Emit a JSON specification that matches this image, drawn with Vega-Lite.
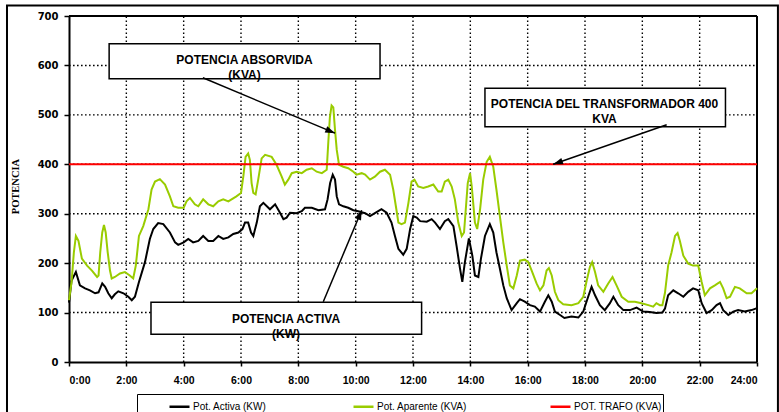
{
  "$schema": "https://vega.github.io/schema/vega-lite/v6.json",
  "width": 688,
  "height": 346,
  "autosize": {"type": "none"},
  "padding": {"left": 69, "top": 16, "right": 22, "bottom": 50},
  "background": "white",
  "datasets": {
    "activa": [
      {"hora": 0.00, "kw": 120}, {"hora": 0.09, "kw": 165}, {"hora": 0.24, "kw": 182}, {"hora": 0.38, "kw": 155},
      {"hora": 0.56, "kw": 149}, {"hora": 0.73, "kw": 145}, {"hora": 0.91, "kw": 139}, {"hora": 1.03, "kw": 141},
      {"hora": 1.16, "kw": 159}, {"hora": 1.26, "kw": 152}, {"hora": 1.37, "kw": 139}, {"hora": 1.49, "kw": 129},
      {"hora": 1.60, "kw": 137}, {"hora": 1.72, "kw": 143}, {"hora": 1.90, "kw": 139}, {"hora": 2.07, "kw": 132},
      {"hora": 2.19, "kw": 125}, {"hora": 2.30, "kw": 132}, {"hora": 2.44, "kw": 162}, {"hora": 2.65, "kw": 202},
      {"hora": 2.82, "kw": 249}, {"hora": 2.94, "kw": 269}, {"hora": 3.11, "kw": 281}, {"hora": 3.29, "kw": 279},
      {"hora": 3.52, "kw": 262}, {"hora": 3.70, "kw": 242}, {"hora": 3.81, "kw": 237}, {"hora": 4.00, "kw": 242},
      {"hora": 4.16, "kw": 249}, {"hora": 4.33, "kw": 242}, {"hora": 4.51, "kw": 245}, {"hora": 4.68, "kw": 255},
      {"hora": 4.86, "kw": 245}, {"hora": 5.03, "kw": 245}, {"hora": 5.21, "kw": 255}, {"hora": 5.38, "kw": 249},
      {"hora": 5.56, "kw": 252}, {"hora": 5.73, "kw": 259}, {"hora": 5.91, "kw": 262}, {"hora": 6.05, "kw": 269},
      {"hora": 6.14, "kw": 282}, {"hora": 6.25, "kw": 282}, {"hora": 6.35, "kw": 262}, {"hora": 6.43, "kw": 255},
      {"hora": 6.55, "kw": 282}, {"hora": 6.66, "kw": 315}, {"hora": 6.78, "kw": 322}, {"hora": 7.01, "kw": 309},
      {"hora": 7.19, "kw": 319}, {"hora": 7.36, "kw": 302}, {"hora": 7.48, "kw": 289}, {"hora": 7.59, "kw": 292},
      {"hora": 7.71, "kw": 302}, {"hora": 7.94, "kw": 301}, {"hora": 8.12, "kw": 305}, {"hora": 8.23, "kw": 312},
      {"hora": 8.47, "kw": 312}, {"hora": 8.70, "kw": 307}, {"hora": 8.93, "kw": 309}, {"hora": 9.02, "kw": 329},
      {"hora": 9.11, "kw": 362}, {"hora": 9.20, "kw": 379}, {"hora": 9.28, "kw": 369}, {"hora": 9.34, "kw": 335},
      {"hora": 9.42, "kw": 319}, {"hora": 9.57, "kw": 315}, {"hora": 9.74, "kw": 312}, {"hora": 9.92, "kw": 307},
      {"hora": 10.09, "kw": 305}, {"hora": 10.33, "kw": 301}, {"hora": 10.50, "kw": 295}, {"hora": 10.67, "kw": 301},
      {"hora": 10.90, "kw": 309}, {"hora": 11.08, "kw": 302}, {"hora": 11.25, "kw": 282}, {"hora": 11.37, "kw": 255},
      {"hora": 11.49, "kw": 229}, {"hora": 11.66, "kw": 217}, {"hora": 11.78, "kw": 229}, {"hora": 11.90, "kw": 269},
      {"hora": 12.01, "kw": 295}, {"hora": 12.13, "kw": 292}, {"hora": 12.25, "kw": 285}, {"hora": 12.48, "kw": 284},
      {"hora": 12.65, "kw": 289}, {"hora": 12.77, "kw": 282}, {"hora": 12.94, "kw": 269}, {"hora": 13.11, "kw": 285},
      {"hora": 13.23, "kw": 289}, {"hora": 13.41, "kw": 275}, {"hora": 13.52, "kw": 235}, {"hora": 13.64, "kw": 189},
      {"hora": 13.72, "kw": 162}, {"hora": 13.81, "kw": 202}, {"hora": 13.95, "kw": 250}, {"hora": 14.07, "kw": 215},
      {"hora": 14.16, "kw": 175}, {"hora": 14.28, "kw": 172}, {"hora": 14.37, "kw": 209}, {"hora": 14.51, "kw": 255},
      {"hora": 14.68, "kw": 279}, {"hora": 14.80, "kw": 262}, {"hora": 14.91, "kw": 222}, {"hora": 15.03, "kw": 189},
      {"hora": 15.15, "kw": 155}, {"hora": 15.27, "kw": 129}, {"hora": 15.44, "kw": 105}, {"hora": 15.62, "kw": 119},
      {"hora": 15.73, "kw": 127}, {"hora": 15.90, "kw": 122}, {"hora": 16.08, "kw": 115}, {"hora": 16.25, "kw": 112},
      {"hora": 16.43, "kw": 102}, {"hora": 16.60, "kw": 122}, {"hora": 16.72, "kw": 135}, {"hora": 16.84, "kw": 122},
      {"hora": 16.95, "kw": 102}, {"hora": 17.13, "kw": 95}, {"hora": 17.28, "kw": 89}, {"hora": 17.53, "kw": 92},
      {"hora": 17.77, "kw": 90}, {"hora": 17.94, "kw": 102}, {"hora": 18.11, "kw": 132}, {"hora": 18.23, "kw": 152},
      {"hora": 18.35, "kw": 135}, {"hora": 18.52, "kw": 115}, {"hora": 18.69, "kw": 105}, {"hora": 18.87, "kw": 119},
      {"hora": 18.99, "kw": 132}, {"hora": 19.16, "kw": 115}, {"hora": 19.34, "kw": 105}, {"hora": 19.57, "kw": 105},
      {"hora": 19.80, "kw": 110}, {"hora": 20.03, "kw": 102}, {"hora": 20.26, "kw": 101}, {"hora": 20.49, "kw": 99},
      {"hora": 20.70, "kw": 100}, {"hora": 20.79, "kw": 108}, {"hora": 20.90, "kw": 135}, {"hora": 21.08, "kw": 145},
      {"hora": 21.25, "kw": 139}, {"hora": 21.43, "kw": 132}, {"hora": 21.60, "kw": 142}, {"hora": 21.77, "kw": 149},
      {"hora": 21.95, "kw": 145}, {"hora": 22.07, "kw": 119}, {"hora": 22.24, "kw": 99}, {"hora": 22.42, "kw": 105},
      {"hora": 22.59, "kw": 115}, {"hora": 22.71, "kw": 119}, {"hora": 22.82, "kw": 105}, {"hora": 23.00, "kw": 95},
      {"hora": 23.17, "kw": 102}, {"hora": 23.34, "kw": 105}, {"hora": 23.57, "kw": 102}, {"hora": 23.81, "kw": 105},
      {"hora": 24.00, "kw": 109}
    ],
    "aparente": [
      {"hora": 0.00, "kva": 125}, {"hora": 0.09, "kva": 162}, {"hora": 0.17, "kva": 222}, {"hora": 0.24, "kva": 255},
      {"hora": 0.33, "kva": 245}, {"hora": 0.45, "kva": 209}, {"hora": 0.63, "kva": 195}, {"hora": 0.80, "kva": 185},
      {"hora": 0.98, "kva": 172}, {"hora": 1.03, "kva": 175}, {"hora": 1.09, "kva": 222}, {"hora": 1.16, "kva": 262},
      {"hora": 1.22, "kva": 277}, {"hora": 1.28, "kva": 262}, {"hora": 1.35, "kva": 222}, {"hora": 1.43, "kva": 185},
      {"hora": 1.49, "kva": 169}, {"hora": 1.60, "kva": 172}, {"hora": 1.78, "kva": 179}, {"hora": 1.95, "kva": 182},
      {"hora": 2.12, "kva": 175}, {"hora": 2.24, "kva": 169}, {"hora": 2.33, "kva": 195}, {"hora": 2.44, "kva": 255},
      {"hora": 2.59, "kva": 275}, {"hora": 2.77, "kva": 309}, {"hora": 2.88, "kva": 349}, {"hora": 3.00, "kva": 365},
      {"hora": 3.17, "kva": 370}, {"hora": 3.35, "kva": 359}, {"hora": 3.52, "kva": 335}, {"hora": 3.64, "kva": 315},
      {"hora": 3.81, "kva": 312}, {"hora": 4.00, "kva": 312}, {"hora": 4.10, "kva": 325}, {"hora": 4.22, "kva": 332},
      {"hora": 4.39, "kva": 319}, {"hora": 4.51, "kva": 315}, {"hora": 4.68, "kva": 329}, {"hora": 4.86, "kva": 319},
      {"hora": 5.03, "kva": 315}, {"hora": 5.21, "kva": 325}, {"hora": 5.38, "kva": 329}, {"hora": 5.56, "kva": 325},
      {"hora": 5.67, "kva": 329}, {"hora": 5.84, "kva": 335}, {"hora": 6.00, "kva": 342}, {"hora": 6.08, "kva": 375},
      {"hora": 6.16, "kva": 415}, {"hora": 6.25, "kva": 422}, {"hora": 6.31, "kva": 409}, {"hora": 6.37, "kva": 362},
      {"hora": 6.43, "kva": 342}, {"hora": 6.51, "kva": 339}, {"hora": 6.60, "kva": 369}, {"hora": 6.72, "kva": 412},
      {"hora": 6.84, "kva": 419}, {"hora": 7.07, "kva": 415}, {"hora": 7.24, "kva": 399}, {"hora": 7.42, "kva": 375},
      {"hora": 7.53, "kva": 359}, {"hora": 7.65, "kva": 369}, {"hora": 7.77, "kva": 382}, {"hora": 7.94, "kva": 385},
      {"hora": 8.12, "kva": 382}, {"hora": 8.29, "kva": 389}, {"hora": 8.47, "kva": 392}, {"hora": 8.64, "kva": 385},
      {"hora": 8.82, "kva": 382}, {"hora": 8.99, "kva": 389}, {"hora": 9.05, "kva": 449}, {"hora": 9.10, "kva": 495},
      {"hora": 9.16, "kva": 519}, {"hora": 9.22, "kva": 515}, {"hora": 9.28, "kva": 469}, {"hora": 9.34, "kva": 429},
      {"hora": 9.42, "kva": 399}, {"hora": 9.57, "kva": 395}, {"hora": 9.74, "kva": 392}, {"hora": 9.92, "kva": 385},
      {"hora": 10.03, "kva": 379}, {"hora": 10.21, "kva": 382}, {"hora": 10.33, "kva": 379}, {"hora": 10.50, "kva": 369},
      {"hora": 10.67, "kva": 375}, {"hora": 10.85, "kva": 385}, {"hora": 11.02, "kva": 389}, {"hora": 11.20, "kva": 379},
      {"hora": 11.31, "kva": 349}, {"hora": 11.43, "kva": 305}, {"hora": 11.49, "kva": 282}, {"hora": 11.60, "kva": 279},
      {"hora": 11.72, "kva": 282}, {"hora": 11.84, "kva": 322}, {"hora": 11.95, "kva": 365}, {"hora": 12.05, "kva": 369},
      {"hora": 12.18, "kva": 355}, {"hora": 12.36, "kva": 352}, {"hora": 12.53, "kva": 355}, {"hora": 12.71, "kva": 359},
      {"hora": 12.88, "kva": 345}, {"hora": 13.00, "kva": 345}, {"hora": 13.11, "kva": 365}, {"hora": 13.23, "kva": 369},
      {"hora": 13.35, "kva": 355}, {"hora": 13.46, "kva": 329}, {"hora": 13.58, "kva": 282}, {"hora": 13.70, "kva": 255},
      {"hora": 13.78, "kva": 262}, {"hora": 13.91, "kva": 362}, {"hora": 13.99, "kva": 382}, {"hora": 14.05, "kva": 355},
      {"hora": 14.16, "kva": 282}, {"hora": 14.24, "kva": 269}, {"hora": 14.34, "kva": 309}, {"hora": 14.45, "kva": 369},
      {"hora": 14.57, "kva": 405}, {"hora": 14.68, "kva": 415}, {"hora": 14.80, "kva": 395}, {"hora": 14.91, "kva": 349},
      {"hora": 15.03, "kva": 295}, {"hora": 15.15, "kva": 242}, {"hora": 15.27, "kva": 195}, {"hora": 15.38, "kva": 155},
      {"hora": 15.50, "kva": 149}, {"hora": 15.62, "kva": 175}, {"hora": 15.73, "kva": 205}, {"hora": 15.90, "kva": 207},
      {"hora": 16.02, "kva": 202}, {"hora": 16.14, "kva": 185}, {"hora": 16.31, "kva": 159}, {"hora": 16.43, "kva": 145},
      {"hora": 16.55, "kva": 155}, {"hora": 16.66, "kva": 185}, {"hora": 16.74, "kva": 190}, {"hora": 16.84, "kva": 175},
      {"hora": 16.95, "kva": 142}, {"hora": 17.07, "kva": 125}, {"hora": 17.24, "kva": 117}, {"hora": 17.53, "kva": 115},
      {"hora": 17.77, "kva": 119}, {"hora": 17.94, "kva": 132}, {"hora": 18.06, "kva": 165}, {"hora": 18.17, "kva": 192},
      {"hora": 18.25, "kva": 202}, {"hora": 18.35, "kva": 182}, {"hora": 18.46, "kva": 155}, {"hora": 18.64, "kva": 142},
      {"hora": 18.81, "kva": 159}, {"hora": 18.96, "kva": 172}, {"hora": 19.10, "kva": 155}, {"hora": 19.28, "kva": 132},
      {"hora": 19.51, "kva": 122}, {"hora": 19.74, "kva": 122}, {"hora": 19.97, "kva": 119}, {"hora": 20.21, "kva": 115},
      {"hora": 20.38, "kva": 112}, {"hora": 20.49, "kva": 119}, {"hora": 20.61, "kva": 115}, {"hora": 20.70, "kva": 115},
      {"hora": 20.79, "kva": 140}, {"hora": 20.90, "kva": 195}, {"hora": 21.02, "kva": 222}, {"hora": 21.14, "kva": 255},
      {"hora": 21.23, "kva": 261}, {"hora": 21.31, "kva": 245}, {"hora": 21.43, "kva": 215}, {"hora": 21.60, "kva": 199},
      {"hora": 21.77, "kva": 195}, {"hora": 21.95, "kva": 195}, {"hora": 22.07, "kva": 162}, {"hora": 22.18, "kva": 135},
      {"hora": 22.36, "kva": 149}, {"hora": 22.53, "kva": 155}, {"hora": 22.71, "kva": 162}, {"hora": 22.82, "kva": 149},
      {"hora": 22.94, "kva": 129}, {"hora": 23.06, "kva": 132}, {"hora": 23.23, "kva": 152}, {"hora": 23.40, "kva": 149},
      {"hora": 23.64, "kva": 139}, {"hora": 23.81, "kva": 139}, {"hora": 24.00, "kva": 149}
    ],
    "trafo": [
      {"hora": 0, "kva": 400}, {"hora": 24, "kva": 400}
    ],
    "guias": [
      {"guia": "p100", "hora": 0, "kw": 100}, {"guia": "p100", "hora": 24, "kw": 100},
      {"guia": "p200", "hora": 0, "kw": 200}, {"guia": "p200", "hora": 24, "kw": 200},
      {"guia": "p300", "hora": 0, "kw": 300}, {"guia": "p300", "hora": 24, "kw": 300},
      {"guia": "p400", "hora": 0, "kw": 400}, {"guia": "p400", "hora": 24, "kw": 400},
      {"guia": "p500", "hora": 0, "kw": 500}, {"guia": "p500", "hora": 24, "kw": 500},
      {"guia": "p600", "hora": 0, "kw": 600}, {"guia": "p600", "hora": 24, "kw": 600},
      {"guia": "h2", "hora": 2, "kw": 0}, {"guia": "h2", "hora": 2, "kw": 700},
      {"guia": "h4", "hora": 4, "kw": 0}, {"guia": "h4", "hora": 4, "kw": 700},
      {"guia": "h6", "hora": 6, "kw": 0}, {"guia": "h6", "hora": 6, "kw": 700},
      {"guia": "h8", "hora": 8, "kw": 0}, {"guia": "h8", "hora": 8, "kw": 700},
      {"guia": "h10", "hora": 10, "kw": 0}, {"guia": "h10", "hora": 10, "kw": 700},
      {"guia": "h12", "hora": 12, "kw": 0}, {"guia": "h12", "hora": 12, "kw": 700},
      {"guia": "h14", "hora": 14, "kw": 0}, {"guia": "h14", "hora": 14, "kw": 700},
      {"guia": "h16", "hora": 16, "kw": 0}, {"guia": "h16", "hora": 16, "kw": 700},
      {"guia": "h18", "hora": 18, "kw": 0}, {"guia": "h18", "hora": 18, "kw": 700},
      {"guia": "h20", "hora": 20, "kw": 0}, {"guia": "h20", "hora": 20, "kw": 700},
      {"guia": "h22", "hora": 22, "kw": 0}, {"guia": "h22", "hora": 22, "kw": 700}
    ],
    "bordes": [
      {"lado": "arriba", "hora": 0, "kw": 700}, {"lado": "arriba", "hora": 24, "kw": 700},
      {"lado": "derecha", "hora": 24, "kw": 0}, {"lado": "derecha", "hora": 24, "kw": 700}
    ],
    "notas": [
      {"id": "absorvida", "texto": "POTENCIA ABSORVIDA\n(KVA)", "t0": 1.40, "t1": 10.85, "v0": 573, "v1": 644, "tt": 6.12, "vt": 610, "ta": 4.67, "va": 575, "tb": 9.28, "vb": 463},
      {"id": "trafo", "texto": "POTENCIA DEL TRANSFORMADOR 400\nKVA", "t0": 14.51, "t1": 22.90, "v0": 476, "v1": 554, "tt": 18.68, "vt": 522, "ta": 20.85, "va": 480, "tb": 16.89, "vb": 400},
      {"id": "activa", "texto": "POTENCIA ACTIVA\n(KW)", "t0": 2.86, "t1": 12.30, "v0": 56, "v1": 121, "tt": 7.57, "vt": 88, "ta": 8.87, "va": 122, "tb": 10.21, "vb": 307}
    ]
  },
  "layer": [
    {
      "data": {"name": "guias"},
      "mark": {"type": "line", "color": "black", "strokeWidth": 1.4, "strokeDash": [1.6, 2.4]},
      "encoding": {
        "x": {"field": "hora", "type": "quantitative"},
        "y": {"field": "kw", "type": "quantitative"},
        "detail": {"field": "guia"}
      }
    },
    {
      "data": {"name": "bordes"},
      "mark": {"type": "line", "color": "black", "strokeWidth": 2},
      "encoding": {
        "x": {"field": "hora", "type": "quantitative"},
        "y": {"field": "kw", "type": "quantitative"},
        "detail": {"field": "lado"}
      }
    },
    {
      "data": {"name": "activa"},
      "mark": {"type": "line", "strokeWidth": 2},
      "encoding": {
        "x": {
          "field": "hora", "type": "quantitative",
          "scale": {"domain": [0, 24], "nice": false, "zero": false},
          "axis": {
            "values": [0, 2, 4, 6, 8, 10, 12, 14, 16, 18, 20, 22, 24],
            "labelExpr": "datum.value + ':00'",
            "title": null,
            "grid": false,
            "tickSize": 4,
            "labelPadding": 9,
            "labelFont": "Liberation Sans",
            "labelFontSize": 10.5
          }
        },
        "y": {
          "field": "kw", "type": "quantitative",
          "scale": {"domain": [0, 700], "nice": false},
          "axis": {
            "values": [0, 100, 200, 300, 400, 500, 600, 700],
            "grid": false,
            "title": "POTENCIA",
            "titleFont": "Liberation Serif",
            "titleFontWeight": "bold",
            "titleFontSize": 10.5,
            "titleColor": "black",
            "titleX": -51,
            "titleY": 170,
            "titleBaseline": "alphabetic",
            "tickSize": 5,
            "labelPadding": 6,
            "labelFont": "DejaVu Sans",
            "labelFontSize": 10
          }
        },
        "color": {
          "datum": "Pot. Activa  (KW)",
          "scale": {
            "domain": ["Pot. Activa  (KW)", "Pot. Aparente (KVA)", "POT. TRAFO (KVA)"],
            "range": ["#000000", "#99CC00", "#FF0000"]
          },
          "legend": {
            "orient": "none",
            "legendX": 68,
            "legendY": 378,
            "direction": "horizontal",
            "title": " ",
            "titleOrient": "left",
            "titlePadding": 30,
            "symbolType": "stroke",
            "symbolSize": 400,
            "symbolStrokeWidth": 2.5,
            "labelFont": "Liberation Sans",
            "labelFontSize": 10,
            "labelColor": "black",
            "labelOffset": 2,
            "columnPadding": 78,
            "strokeColor": "black",
            "fillColor": "white",
            "padding": 1
          }
        }
      }
    },
    {
      "data": {"name": "aparente"},
      "mark": {"type": "line", "strokeWidth": 2},
      "encoding": {
        "x": {"field": "hora", "type": "quantitative"},
        "y": {"field": "kva", "type": "quantitative"},
        "color": {"datum": "Pot. Aparente (KVA)"}
      }
    },
    {
      "data": {"name": "trafo"},
      "mark": {"type": "line", "strokeWidth": 2},
      "encoding": {
        "x": {"field": "hora", "type": "quantitative"},
        "y": {"field": "kva", "type": "quantitative"},
        "color": {"datum": "POT. TRAFO (KVA)"}
      }
    },
    {
      "data": {"name": "notas"},
      "mark": {"type": "rect", "fill": "white", "stroke": "black", "strokeWidth": 1.5},
      "encoding": {
        "x": {"field": "t0", "type": "quantitative"},
        "x2": {"field": "t1"},
        "y": {"field": "v0", "type": "quantitative"},
        "y2": {"field": "v1"}
      }
    },
    {
      "data": {"name": "notas"},
      "mark": {"type": "text", "font": "Liberation Sans", "fontSize": 12, "fontWeight": "bold", "lineBreak": "\n", "lineHeight": 15, "align": "center", "baseline": "middle", "color": "black"},
      "encoding": {
        "x": {"field": "tt", "type": "quantitative"},
        "y": {"field": "vt", "type": "quantitative"},
        "text": {"field": "texto"}
      }
    },
    {
      "data": {"name": "notas"},
      "mark": {"type": "rule", "color": "black", "strokeWidth": 1.5},
      "encoding": {
        "x": {"field": "ta", "type": "quantitative"},
        "y": {"field": "va", "type": "quantitative"},
        "x2": {"field": "tb"},
        "y2": {"field": "vb"}
      }
    },
    {
      "data": {"name": "notas"},
      "transform": [{"filter": "datum.id == 'absorvida'"}],
      "mark": {"type": "point", "shape": "M0,0L0.55,1.6L-0.55,1.6Z", "filled": true, "color": "black", "opacity": 1, "size": 150, "angle": 112.6},
      "encoding": {
        "x": {"field": "tb", "type": "quantitative"},
        "y": {"field": "vb", "type": "quantitative"}
      }
    },
    {
      "data": {"name": "notas"},
      "transform": [{"filter": "datum.id == 'trafo'"}],
      "mark": {"type": "point", "shape": "M0,0L0.55,1.6L-0.55,1.6Z", "filled": true, "color": "black", "opacity": 1, "size": 150, "angle": 250.9},
      "encoding": {
        "x": {"field": "tb", "type": "quantitative"},
        "y": {"field": "vb", "type": "quantitative"}
      }
    },
    {
      "data": {"name": "notas"},
      "transform": [{"filter": "datum.id == 'activa'"}],
      "mark": {"type": "point", "shape": "M0,0L0.55,1.6L-0.55,1.6Z", "filled": true, "color": "black", "opacity": 1, "size": 150, "angle": 22.7},
      "encoding": {
        "x": {"field": "tb", "type": "quantitative"},
        "y": {"field": "vb", "type": "quantitative"}
      }
    },
    {
      "data": {"values": [{}]},
      "mark": {"type": "rect", "filled": false, "stroke": "black", "strokeWidth": 2},
      "encoding": {
        "x": {"datum": -2.163, "type": "quantitative"},
        "x2": {"datum": 24.73},
        "y": {"datum": 721, "type": "quantitative"},
        "y2": {"datum": -107}
      }
    }
  ],
  "config": {
    "view": {"stroke": null},
    "font": "Liberation Sans",
    "axis": {
      "labelFontWeight": "bold",
      "labelColor": "black",
      "domainColor": "black",
      "domainWidth": 2,
      "tickColor": "black",
      "tickWidth": 1.5
    }
  }
}
